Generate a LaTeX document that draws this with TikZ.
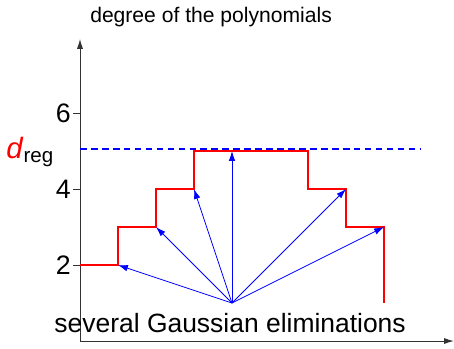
\documentclass[tikz,border=0pt]{standalone}
\usepackage{fontspec}
\setmainfont{Liberation Sans}
\usetikzlibrary{arrows.meta,positioning,calc}
\definecolor{stepred}{HTML}{FF0000}
\definecolor{elimblue}{HTML}{0000FF}
\definecolor{axisgray}{HTML}{333333}

\begin{document}
\begin{tikzpicture}[>=Latex]
  \tikzstyle{axis}=[draw=axisgray,line width=0.7pt,-{Latex[length=2.6mm,width=1.6mm]}]
  \tikzstyle{tick}=[draw=axisgray,line width=0.5pt]
  \tikzstyle{ticklbl}=[left,inner sep=1pt,font=\fontsize{20}{20}\selectfont]
  \tikzstyle{stair}=[draw=stepred,line width=1.9pt]
  \tikzstyle{elim}=[draw=elimblue,line width=0.6pt,-{Latex[length=2.6mm,width=1.7mm]}]
  \useasboundingbox (-2.105,-0.184) rectangle (9.842,8.974);
  % axes
  \coordinate (o) at (0,0);
  \coordinate (ytop) at (0,7.95);
  \coordinate (xend) at (9.84,0);
  \draw[axis] (o) -- (ytop);
  \draw[axis] (o) -- (xend);
  \draw[tick] (-0.18,2) -- (0,2) node[ticklbl] (t2) at (-0.2,2) {2};
  \draw[tick] (-0.18,4) -- (0,4) node[ticklbl] (t4) at (-0.2,4) {4};
  \draw[tick] (-0.18,6) -- (0,6) node[ticklbl] (t6) at (-0.2,6) {6};
  \node[font=\fontsize{15.8}{16}\selectfont] (ylbl) at (3.45,8.53) {degree of the polynomials};
  % regularity degree
  \node[font=\fontsize{22}{22}\selectfont] (dreg) at (-1.31,4.98) {\textcolor{stepred}{\textit{d}}\textsubscript{reg}};
  \draw[draw=elimblue,line width=1.4pt,dash pattern=on 5pt off 3.2pt] (0,5.05) -- (8.95,5.05);
  % staircase
  \coordinate (p1) at (1,2);
  \coordinate (p2) at (2,3);
  \coordinate (p3) at (3,4);
  \coordinate (p4) at (4,5);
  \coordinate (p5) at (7,4);
  \coordinate (p6) at (8,3);
  \draw[stair] (0,2) -- (p1) |- (p2) |- (p3) |- (p4) -- (6,5) |- (p5) |- (p6) -- (8,1);
  % eliminations
  \coordinate (src) at (4,1);
  \draw[elim] (src) -- (p1);
  \draw[elim] (src) -- (p2);
  \draw[elim] (src) -- (p3);
  \draw[elim] (src) -- (p4);
  \draw[elim] (src) -- (p5);
  \draw[elim] (src) -- (p6);
  \node[font=\fontsize{19.8}{20}\selectfont] (gauss) at (3.95,0.47) {several Gaussian eliminations};
\end{tikzpicture}
\end{document}
